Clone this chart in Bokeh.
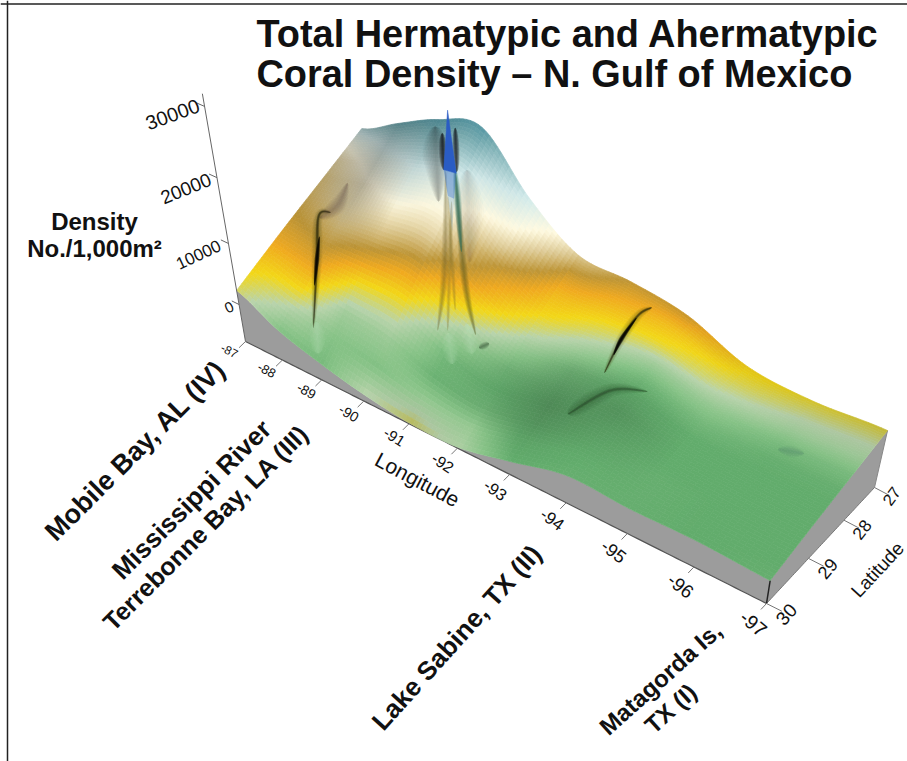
import numpy as np
from bokeh.plotting import figure
from bokeh.models import Range1d, Span
from bokeh.core.properties import value
from bokeh.embed import file_html
from bokeh.resources import INLINE

# ---------- values ----------
LON = [-87, -88, -89, -90, -91, -92, -93, -94, -95, -96, -97]
LAT = [30, 29, 28, 27]
Z_TICKS = [0, 10000, 20000, 30000]
Z_FLOOR = -6440
RELIEF_30 = [2360, -1200, -3440, -5200, -6260, -6260, -4140, -1710, -2060, -1890, -2400]
RELIEF_29 = [5000, 4510, 4680, 4510, 850, -1370, 0, 1020, -340, -340, -170]
RELIEF_28 = [7130, 8880, 10950, 12070, 6480, 2700, 3200, 3360, 1020, 850, 1690]
RELIEF_27 = [9050, 12800, 16460, 18550, 11260, 6150, 6150, 5340, 2190, 2030, 3360]
TINT_LATS = [30, 29.76, 29.51, 29.24, 28.97, 28.68, 28.38, 28.06, 27.72, 27.37, 27]
TINT = [
    [.30, .15, .12, .24, .29, .22, .07, .08, .08, .07, .08],
    [.35, .24, .15, .14, .18, .18, .05, .07, .08, .07, .07],
    [.40, .36, .20, .19, .09, .10, .06, .07, .08, .07, .06],
    [.46, .46, .32, .29, .11, .07, .06, .07, .07, .07, .06],
    [.50, .52, .46, .41, .21, .10, .08, .07, .07, .07, .06],
    [.53, .58, .56, .52, .34, .17, .10, .06, .07, .07, .07],
    [.56, .63, .64, .62, .45, .27, .18, .10, .11, .08, .08],
    [.58, .66, .72, .69, .52, .36, .28, .20, .17, .12, .12],
    [.62, .72, .78, .76, .62, .42, .37, .33, .25, .20, .20],
    [.70, .80, .85, .84, .71, .50, .45, .40, .32, .27, .26],
    [.82, .90, .92, .92, .78, .60, .52, .50, .37, .34, .33],
]
SHADE = [
    [1.0, 1.0, 1.0, 1.0, .88, 1.0, 1.0, 1.0, 1.0, 1.0, 1.0],
    [1.0, 1.0, 1.0, 1.0, 1.0, 1.0, .95, 1.0, 1.0, 1.0, 1.0],
    [1.0, 1.0, 1.0, 1.0, 1.0, .95, .85, .95, 1.0, 1.0, 1.0],
    [1.0, 1.0, 1.0, 1.0, 1.0, .95, .80, .90, 1.0, 1.0, 1.0],
    [1.0, 1.0, 1.0, 1.0, 1.0, .95, .85, .85, 1.0, 1.0, 1.0],
    [.95, .92, 1.0, 1.0, 1.0, 1.0, .92, .92, 1.0, 1.0, 1.0],
    [.90, .80, 1.0, 1.0, 1.0, 1.0, 1.0, 1.0, 1.0, 1.0, 1.0],
    [.85, .72, .95, 1.0, 1.0, 1.0, 1.0, 1.0, 1.0, 1.0, 1.0],
    [.80, .70, .90, 1.0, 1.0, 1.0, 1.0, 1.0, 1.0, .98, .97],
    [.78, .72, .85, .95, 1.0, 1.0, 1.0, 1.0, .97, .94, .92],
    [.75, .75, .80, .92, 1.0, 1.0, 1.0, .95, .93, .90, .85],
]
# the central spike stands at one site; its streaks fan out in longitude
SPIKE_LAT = 29.0
SPIKE_TIP_LON = [-91.05, -91.17, -90.93]
SPIKE_TIP_Z = [34400, 26300, 26000]
SPIKE_FADE_LON = [-90.93, -91.17, -91.11, -90.99]
SPIKE_FADE_Z = [26000, 26300, 22500, 22500]
SPIKE_FADE2_LON = [-90.99, -91.11, -91.05]
SPIKE_FADE2_Z = [22500, 22500, 17500]
SPIKE_LEFT_LON = [-90.97, -90.86, -90.65]
SPIKE_LEFT_Z = [26000, 10780, 240]
SPIKE_RIGHT_LON = [-91.15, -91.27, -91.46]
SPIKE_RIGHT_Z = [26600, 10860, 2700]
SPIKE_RIGHT_TOP_LON = [-91.15, -91.18, -91.22]
SPIKE_RIGHT_TOP_Z = [27000, 22000, 15000]
SPIKE_INNER_A_LON = [-90.99, -91.05]
SPIKE_INNER_A_Z = [22500, 5170]
SPIKE_INNER_B_LON = [-91.06, -90.87]
SPIKE_INNER_B_Z = [22000, 1100]
HALO_LEFT_LON = [-90.8, -90.8, -90.8]
HALO_LEFT_Z = [31500, 27500, 21000]
HALO_LEFT_TIGHT_LON = [-90.93, -90.93]
HALO_LEFT_TIGHT_Z = [31000, 26000]
HALO_RIGHT_LON = [-91.38, -91.38, -91.38]
HALO_RIGHT_Z = [27500, 21500, 14000]
HALO_TIGHT_LON = [-91.18, -91.18]
HALO_TIGHT_Z = [32500, 26500]
# folds and small highlights lying on the surface: longitude, latitude
FOLD_A_LON = [-88.6, -88.0, -87.5, -87.7]
FOLD_A_LAT = [29.77, 29.14, 28.64, 28.53]
FOLD_A_CORE_LON = [-88.22, -88.0, -87.78]
FOLD_A_CORE_LAT = [29.4, 29.14, 28.88]
FOLD_A_SHADOW_LON = [-87.55, -87.75, -87.65]
FOLD_A_SHADOW_LAT = [28.66, 28.4, 28.05]
FOLD_B_LON = [-93.5, -93.4, -93.4, -93.5]
FOLD_B_LAT = [28.51, 27.92, 27.44, 27.22]
FOLD_B_CORE_LON = [-93.45, -93.4, -93.4]
FOLD_B_CORE_LAT = [28.2, 27.92, 27.5]
FOLD_C_LON = [-93.4, -93.75, -94.2]
FOLD_C_LAT = [29.24, 28.71, 28.45]
FOLD_D_LON = [-96.05, -96.2, -96.35]
FOLD_D_LAT = [28.15, 28.09, 28.03]
GLINT_LON = [-88.75, -91.05, -91.25]
GLINT_LAT = [29.82, 29.14, 28.91]
DIMPLE_LON = [-91.45, -91.55]
DIMPLE_LAT = [28.92, 28.8]

TITLE_LINES = ["Total Hermatypic and Ahermatypic", "Coral Density \u2013 N. Gulf of Mexico"]
SITE_LABELS = ["Mobile Bay, AL (IV)", "Mississippi River", "Terrebonne Bay, LA (III)",
               "Lake Sabine, TX (II)", "Matagorda Is,", "TX (I)"]

STOPS = [0, .07, .15, .25, .35, .45, .52, .60, .68, .78, .88, .95, 1]
RGB = np.array([(98, 172, 108), (98, 172, 108), (135, 195, 135), (185, 212, 172), (243, 216, 24), (240, 170, 32),
       (190, 150, 55), (222, 203, 150), (255, 250, 225), (212, 236, 236), (125, 182, 188),
       (65, 150, 170), (40, 90, 190)], float)


def tint_to_hex(level, shade):
    out = [np.interp(level, STOPS, RGB[:, ch]) * shade for ch in range(3)]
    out = np.clip(np.stack(out, -1), 0, 255).astype(int)
    return ["#%02x%02x%02x" % tuple(c) for c in out.reshape(-1, 3)]


P_FL, P_FR, P_BR, P_BL = (245, 341), (766, 603), (874, 487), (370, 220)


def f_lon(lon):
    u = -87 - np.asarray(lon, float)
    return 35.7 * u / (1 - .0314 * u) / 520.4


def t_lat(lat):
    w = (30 - np.asarray(lat, float)) / 3
    return 1.272 * w / (1 + .272 * w)


def project(lon, lat, z):
    f, t = f_lon(lon), t_lat(lat)
    bx = (1 - f) * (1 - t) * P_FL[0] + f * (1 - t) * P_FR[0] + f * t * P_BR[0] + (1 - f) * t * P_BL[0]
    by = (1 - f) * (1 - t) * P_FL[1] + f * (1 - t) * P_FR[1] + f * t * P_BR[1] + (1 - f) * t * P_BL[1]
    zz = np.asarray(z, float) / 10000
    h = 58.8 * zz / (1 - .0365 * zz) + 37
    return bx + (bx - 517) * .00064 * h, by - h


def catmull(xq, ys):
    ys = np.asarray(ys, float)
    i = np.clip(np.floor(xq).astype(int), 0, len(ys) - 2)
    s = xq - i
    p0, p1, p2, p3 = ys[np.maximum(i - 1, 0)], ys[i], ys[i + 1], ys[np.minimum(i + 2, len(ys) - 1)]
    return .5 * (2 * p1 + (p2 - p0) * s + (2 * p0 - 5 * p1 + 4 * p2 - p3) * s ** 2 + (3 * p1 - p0 - 3 * p2 + p3) * s ** 3)


RELIEF = [RELIEF_30, RELIEF_29, RELIEF_28, RELIEF_27]


def surface_z(lon, lat):
    lon, lat = np.atleast_1d(lon).astype(float), np.atleast_1d(lat).astype(float)
    col = -87 - lon
    rows = np.array([catmull(col, r) for r in RELIEF])
    t_nodes = t_lat(np.array(LAT, float))
    tq = t_lat(lat)
    return np.array([np.interp(tq[k], t_nodes, rows[:, k]) for k in range(len(lon))])


# Read nodes above are the data; the mesh below only subdivides them for smooth shading.
N_LON, N_LAT = 120, 60
lon_mesh = np.linspace(-87, -97, N_LON + 1)
lat_mesh = np.linspace(30, 27, N_LAT + 1)
LL, PP = np.meshgrid(lon_mesh, lat_mesh)
ZZ = surface_z(LL.ravel(), PP.ravel()).reshape(LL.shape)
XS, YS = project(LL, PP, ZZ)
tn = t_lat(np.array(TINT_LATS))
tq = t_lat(lat_mesh)
cq = -87 - lon_mesh


def regrid(A):
    by_lon = np.array([np.interp(cq, np.arange(len(LON)), row) for row in A])
    return np.array([np.interp(tq, tn, by_lon[:, j]) for j in range(len(cq))]).T


LEV, SHD = regrid(np.array(TINT)), regrid(np.array(SHADE))

p = figure(width=907, height=761, output_backend="svg", toolbar_location=None,
           x_range=Range1d(0, 907), y_range=Range1d(761, 0), min_border=0)
p.axis.visible = False
p.grid.visible = False
p.outline_line_color = None
p.background_fill_color = "white"
p.border_fill_color = "white"

p.add_layout(Span(location=7, dimension="height", line_color="#222222", line_width=1.5))
p.add_layout(Span(location=3.5, dimension="width", line_color="#222222", line_width=1.5))

fine = lon_mesh
sx, sy = project(fine, np.full_like(fine, 30), surface_z(fine, np.full_like(fine, 30)))
bx, by = project(fine, np.full_like(fine, 30), np.full_like(fine, Z_FLOOR))
p.patch(list(sx) + list(bx[::-1]), list(sy) + list(by[::-1]), fill_color="#9c9c9c", line_color=None)
rx, ry = project(np.full_like(lat_mesh, -97), lat_mesh, surface_z(np.full_like(lat_mesh, -97), lat_mesh))
qx, qy = project(np.full_like(lat_mesh, -97), lat_mesh, np.full_like(lat_mesh, Z_FLOOR))
p.patch(list(rx) + list(qx[::-1]), list(ry) + list(qy[::-1]), fill_color="#9c9c9c", line_color=None)
p.line(bx, by, line_color="#555555", line_width=1.2)
p.line(qx, qy, line_color="#777777", line_width=1)
p.line([bx[-1], sx[-1]], [by[-1], sy[-1]], line_color="#222222", line_width=1.5)
p.line([qx[-1], rx[-1]], [qy[-1], ry[-1]], line_color="#888888", line_width=1)

xs_f, ys_f, lev_f, shd_f = [], [], [], []
for j in range(N_LAT - 1, -1, -1):
    for i in range(N_LON):
        xs_f.append([XS[j, i], XS[j, i + 1], XS[j + 1, i + 1], XS[j + 1, i]])
        ys_f.append([YS[j, i], YS[j, i + 1], YS[j + 1, i + 1], YS[j + 1, i]])
        lev_f.append(LEV[j, i])
        shd_f.append(SHD[j, i])
cols = tint_to_hex(np.array(lev_f), np.array(shd_f))
p.patches(xs_f, ys_f, fill_color=cols, line_color=cols, line_width=.7)


def ribbon(x, y, w, color, alpha, layers=8):
    """Soft stroke tapering to nothing at both ends: nested low-alpha outlines."""
    x, y, w = np.asarray(x, float), np.asarray(y, float), np.asarray(w, float)
    q = np.linspace(0, len(x) - 1, 36)
    cx, cy = catmull(q, x), catmull(q, y)
    cw = np.interp(q, np.arange(len(w)), w) * np.sin(np.pi * np.linspace(0, 1, 36)) ** .6
    dx, dy = np.gradient(cx), np.gradient(cy)
    n = np.hypot(dx, dy) + 1e-9
    nx, ny = -dy / n, dx / n
    for sc in np.linspace(1, .12, layers):
        hw = cw * sc / 2
        p.patch(list(cx + nx * hw) + list((cx - nx * hw)[::-1]), list(cy + ny * hw) + list((cy - ny * hw)[::-1]),
                fill_color=color, fill_alpha=alpha, line_color=None)


def on_surface(lon, lat):
    lon, lat = np.array(lon, float), np.array(lat, float)
    return project(lon, lat, surface_z(lon, lat))


def on_spike(lon, z):
    lon = np.array(lon, float)
    return project(lon, np.full_like(lon, SPIKE_LAT), np.array(z, float))


# surface folds
x, y = on_surface(FOLD_A_LON, FOLD_A_LAT)
ribbon(x, y, [9, 12, 9, 9], "#4a3e18", .06)
ribbon(x, y, [3, 4, 3, 4], "#20200f", .14)
x, y = on_surface(FOLD_A_CORE_LON, FOLD_A_CORE_LAT)
ribbon(x, y, [3, 5, 3], "#060604", .24)
x, y = on_surface(FOLD_A_SHADOW_LON, FOLD_A_SHADOW_LAT)
ribbon(x, y, [16, 16, 8], "#4a4436", .05)
x, y = on_surface(FOLD_B_LON, FOLD_B_LAT)
ribbon(x, y, [10, 11, 10, 9], "#4a3e18", .06)
ribbon(x, y, [3, 4, 3, 5], "#20200f", .14)
x, y = on_surface(FOLD_B_CORE_LON, FOLD_B_CORE_LAT)
ribbon(x, y, [3, 5, 3], "#050503", .26)
x, y = on_surface(FOLD_C_LON, FOLD_C_LAT)
ribbon(x, y, [28, 14, 6], "#23452b", .05)
ribbon(x, y, [5, 4, 3], "#1c3322", .06)
x, y = on_surface(FOLD_D_LON, FOLD_D_LAT)
ribbon(x, y, [10, 12, 10], "#3f6a48", .022)
for lon_g, lat_g in zip(GLINT_LON, GLINT_LAT):
    x, y = on_surface([lon_g + .15, lon_g - .15], [lat_g - .12, lat_g + .12])
    ribbon(x, y, [16, 16], "#cdeccd", .05)
x, y = on_surface(DIMPLE_LON, DIMPLE_LAT)
ribbon(x, y, [7, 7], "#24402a", .08)

# central spike
x, y = on_spike(HALO_LEFT_LON, HALO_LEFT_Z)
ribbon(x, y, [22, 28, 14], "#0e1418", .045)
x, y = on_spike(HALO_RIGHT_LON, HALO_RIGHT_Z)
ribbon(x, y, [24, 32, 16], "#20282a", .02)
x, y = on_spike(HALO_LEFT_TIGHT_LON, HALO_LEFT_TIGHT_Z)
ribbon(x, y, [8, 8], "#06090c", .14)
x, y = on_spike(HALO_TIGHT_LON, HALO_TIGHT_Z)
ribbon(x, y, [7, 7], "#06090c", .14)
x, y = on_spike(SPIKE_LEFT_LON, SPIKE_LEFT_Z)
ribbon(x, y, [6, 8, 5], "#6d6a2a", .07)
x, y = on_spike(SPIKE_RIGHT_LON, SPIKE_RIGHT_Z)
ribbon(x, y, [7, 8, 5], "#5a5a22", .09)
x, y = on_spike(SPIKE_RIGHT_TOP_LON, SPIKE_RIGHT_TOP_Z)
ribbon(x, y, [8, 8, 5], "#1f6b66", .11)
x, y = on_spike(SPIKE_INNER_A_LON, SPIKE_INNER_A_Z)
ribbon(x, y, [5, 5], "#8a7f30", .06)
x, y = on_spike(SPIKE_INNER_B_LON, SPIKE_INNER_B_Z)
ribbon(x, y, [5, 5], "#8a7430", .06)
x, y = on_spike(SPIKE_FADE2_LON, SPIKE_FADE2_Z)
p.patch(x, y, fill_color="#4f8fc0", fill_alpha=.25, line_color=None)
x, y = on_spike(SPIKE_FADE_LON, SPIKE_FADE_Z)
p.patch(x, y, fill_color="#3f78c8", fill_alpha=.5, line_color=None)
x, y = on_spike(SPIKE_TIP_LON, SPIKE_TIP_Z)
p.patch(x, y, fill_color="#2a5cc4", line_color="#2a5cc4", line_width=.5)

FONT = value("Liberation Sans")


def label(x, y, text, size, angle=0, bold=False, align="center"):
    p.text([x], [y], text=[text], text_font=FONT, text_font_size=value("%.1fpx" % size),
           text_font_style="bold" if bold else "normal", angle=np.radians(angle),
           text_align=align, text_baseline="middle", text_color="#111111")


lon_ticks = np.array(LON, float)
ax0, ay0 = project(lon_ticks, np.full(11, 30.0), np.full(11, Z_FLOOR))
ax1, ay1 = project(lon_ticks, np.full(11, 30.12), np.full(11, Z_FLOOR))
p.multi_line([[a, b] for a, b in zip(ax0, ax1)], [[a, b] for a, b in zip(ay0, ay1)], line_color="#777777", line_width=1)
for k, lon in enumerate(LON):
    fr = k / 10
    label(ax0[k] - 16 + 3 * fr, ay0[k] + 9 + 11 * fr, str(lon), 12 + 7.5 * fr, -27 - 13 * fr)

lat_ticks = np.array(LAT, float)
bx0, by0 = project(np.full(4, -97.0), lat_ticks, np.full(4, Z_FLOOR))
bx1, by1 = project(np.full(4, -97.2), lat_ticks, np.full(4, Z_FLOOR))
p.multi_line([[a, b] for a, b in zip(bx0, bx1)], [[a, b] for a, b in zip(by0, by1)], line_color="#777777", line_width=1)
for k, lat in enumerate(LAT):
    label(bx0[k] + 20 - k, by0[k] + 11 - k * .8, str(lat), 19 - .8 * k, 48 + 2 * k)

zt = np.array(Z_TICKS, float)
cx0, cy0 = project(np.full(4, -87.0), np.full(4, 30.0), zt)
cx1, cy1 = project(np.full(4, -86.8), np.full(4, 30.0), zt)
p.multi_line([[a, b] for a, b in zip(cx0, cx1)], [[a, b] for a, b in zip(cy0, cy1)], line_color="#666666", line_width=1)
zx, zy = project(np.array([-87., -87.]), np.array([30., 30.]), np.array([Z_FLOOR, 31700.]))
p.line(zx, zy, line_color="#666666", line_width=1)
Z_LABEL_POS = [(-10, 3), (-30, 11), (-31, 11), (-32, 8)]
Z_LABEL_SIZE = [15, 17, 19, 20]
Z_LABEL_ANG = [25, 25, 22, 20]
for k, z in enumerate(Z_TICKS):
    label(cx0[k] + Z_LABEL_POS[k][0], cy0[k] + Z_LABEL_POS[k][1], str(z), Z_LABEL_SIZE[k], Z_LABEL_ANG[k])

label(417, 479, "Longitude", 21, -28)
label(877, 569, "Latitude", 19, 47)

label(256, 33, TITLE_LINES[0], 37.9, 0, True, "left")
label(256, 73, TITLE_LINES[1], 37.9, 0, True, "left")
label(94, 221, "Density", 24, 0, True)
label(94, 248, "No./1,000m\u00b2", 24, 0, True)

label(135, 450, SITE_LABELS[0], 27, 45, True)
label(191, 499, SITE_LABELS[1], 26, 45, True)
label(205, 527, SITE_LABELS[2], 25, 45, True)
label(456, 637, SITE_LABELS[3], 26, 48, True)
label(660, 678, SITE_LABELS[4], 24, 42, True)
label(670, 708, SITE_LABELS[5], 24, 42, True)

open("out.html", "w").write(file_html(p, INLINE))
